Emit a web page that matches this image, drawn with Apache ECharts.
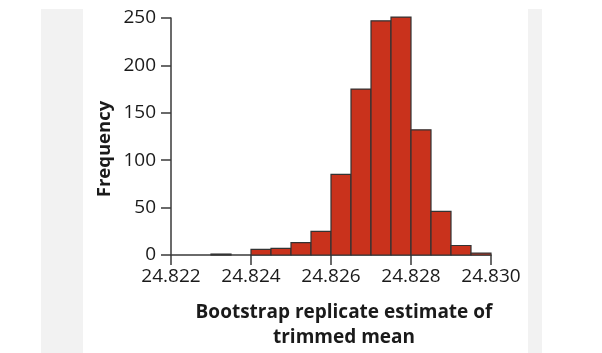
<!DOCTYPE html>
<html><head><meta charset="utf-8">
<script src="https://cdn.jsdelivr.net/npm/echarts@6/dist/echarts.min.js"></script>
<style>html,body{margin:0;padding:0;background:#fff}#c{width:602px;height:353px}</style>
</head><body><div id="c"></div>
<script>
const binStarts = [24.8220, 24.8225, 24.8230, 24.8235, 24.8240, 24.8245, 24.8250, 24.8255,
                   24.8260, 24.8265, 24.8270, 24.8275, 24.8280, 24.8285, 24.8290, 24.8295];
const binWidth = 0.0005;
const counts = [0, 0, 1, 0, 6, 7, 13, 25, 85, 175, 247, 251, 132, 46, 10, 2];
const xTickLabels = ['24.822', '24.824', '24.826', '24.828', '24.830'];
const yTickLabels = ['0', '50', '100', '150', '200', '250'];
const xName1 = 'Bootstrap replicate estimate of';
const xName2 = 'trimmed mean';
const yName = 'Frequency';

const FONT = "'Open Sans', 'Noto Sans', sans-serif";
const AXIS = '#3a3a3a';
const chart = echarts.init(document.getElementById('c'), null, {renderer: 'canvas'});
const data = binStarts.map((s, i) => [s, s + binWidth, counts[i]]);

chart.setOption({
  animation: false,
  backgroundColor: '#fff',
  graphic: [
    {type: 'rect', left: 41, top: 9, shape: {width: 42, height: 344}, style: {fill: '#f2f2f2'}, z: -10},
    {type: 'rect', left: 528, top: 9, shape: {width: 14, height: 344}, style: {fill: '#f2f2f2'}, z: -10},
    {type: 'text', x: 344, y: 313, style: {text: xName1, font: "bold 19px " + FONT, fill: '#1a1a1a', align: 'center', verticalAlign: 'middle'}},
    {type: 'text', x: 344, y: 338, style: {text: xName2, font: "bold 19px " + FONT, fill: '#1a1a1a', align: 'center', verticalAlign: 'middle'}},
    {type: 'text', x: 105, y: 149, rotation: Math.PI / 2, style: {text: yName, font: "bold 18.5px " + FONT, fill: '#1a1a1a', align: 'center', verticalAlign: 'middle'}}
  ],
  grid: {left: 171, right: 111, top: 18, bottom: 98},
  xAxis: {
    type: 'value', min: 24.822, max: 24.830, interval: 0.002,
    axisLine: {show: true, lineStyle: {color: AXIS, width: 1.5}},
    axisTick: {show: true, length: 10, lineStyle: {color: AXIS, width: 1.5}},
    splitLine: {show: false},
    axisLabel: {
      margin: 12, color: '#1a1a1a', fontFamily: FONT, fontSize: 19,
      formatter: (v) => { const i = Math.round((v - 24.822) / 0.002); return xTickLabels[i] !== undefined ? xTickLabels[i] : ''; }
    }
  },
  yAxis: {
    type: 'value', min: 0, max: 250, interval: 50,
    axisLine: {show: true, lineStyle: {color: AXIS, width: 1.5}},
    axisTick: {show: true, length: 10, lineStyle: {color: AXIS, width: 1.5}},
    splitLine: {show: false},
    axisLabel: {
      margin: 15, color: '#1a1a1a', fontFamily: FONT, fontSize: 19,
      formatter: (v) => { const i = Math.round(v / 50); return yTickLabels[i] !== undefined ? yTickLabels[i] : ''; }
    }
  },
  series: [{
    type: 'custom',
    data: data,
    encode: {x: [0, 1], y: 2},
    renderItem: function (params, api) {
      const v = api.value(2);
      if (!v) return null;
      const p0 = api.coord([api.value(0), v]);
      const p1 = api.coord([api.value(1), 0]);
      return {
        type: 'rect',
        shape: {x: p0[0], y: p0[1], width: p1[0] - p0[0], height: p1[1] - p0[1]},
        style: {fill: '#c9321c', stroke: '#333', lineWidth: 1.2}
      };
    },
    z: 1
  }]
});
</script></body></html>
